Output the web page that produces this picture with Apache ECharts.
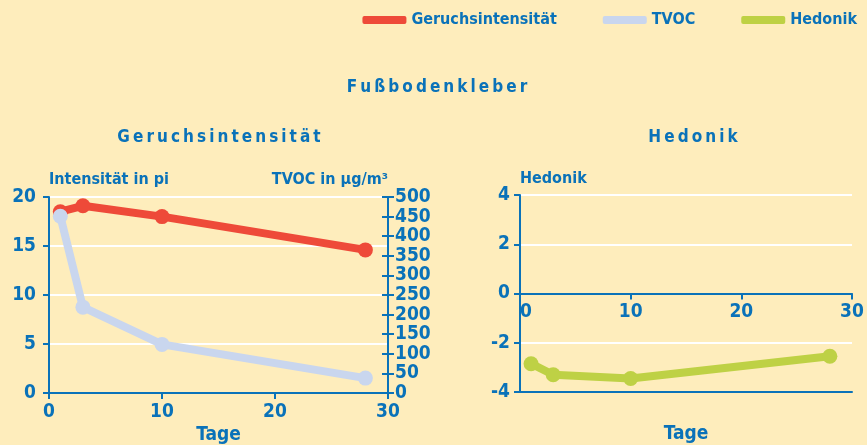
<!DOCTYPE html>
<html>
<head>
<meta charset="utf-8">
<script src="https://cdn.jsdelivr.net/npm/echarts@6/dist/echarts.min.js"></script>
<style>
  html, body { margin: 0; padding: 0; background: #FEEDBC; }
  #main { width: 867px; height: 445px; }
</style>
</head>
<body>
<div id="main"></div>
<script>
// Messwerte (Tage nach Verlegung)
var days = [1, 3, 10, 28];
var geruch = [18.5, 19.1, 18.0, 14.6];   // Intensität in pi
var tvoc = [451, 219, 124, 38];           // µg/m³
var hedonik = [-2.85, -3.3, -3.45, -2.55];

var blue = '#0A72B9';
var font = "'Liberation Sans Narrow', 'DejaVu Sans Condensed', sans-serif";

function pairs(xs, ys) {
    return xs.map(function (x, i) { return [x, ys[i]]; });
}
// gesperrte Überschriften (schmale Leerzeichen zwischen den Buchstaben)
function spaced(s) {
    return s.split('').join('\u2009');
}

var label = { color: blue, fontFamily: font, fontWeight: 'bold', fontSize: 19 };
var nameFont = Object.assign({}, label, { fontSize: 16 });
var axisLine = { show: true, lineStyle: { color: blue, width: 2 } };
var tick = { show: true, length: 6, lineStyle: { color: blue, width: 2 } };
var grid = { show: true, lineStyle: { color: '#ffffff', width: 2 } };
var titleFont = { color: blue, fontSize: 17, fontWeight: 'bold', fontFamily: font };

var myChart = echarts.init(document.getElementById('main'));
myChart.setOption({
    backgroundColor: '#FEEDBC',
    textStyle: { fontFamily: font },
    title: [
        { text: spaced('Fußbodenkleber'), left: 432, top: 74, textAlign: 'center', textStyle: titleFont },
        { text: spaced('Geruchsintensität'), left: 214, top: 124, textAlign: 'center', textStyle: titleFont },
        { text: spaced('Hedonik'), left: 688, top: 124, textAlign: 'center', textStyle: titleFont }
    ],
    legend: {
        right: 5, top: 7,
        icon: 'roundRect',
        itemWidth: 44, itemHeight: 8, itemGap: 46,
        textStyle: { color: blue, fontFamily: font, fontWeight: 'bold', fontSize: 16 },
        data: ['Geruchsintensität', 'TVOC', 'Hedonik']
    },
    grid: [
        { left: 49, width: 339, top: 197, height: 196, outerBoundsMode: 'none' },
        { left: 520, width: 332, top: 195, height: 197, outerBoundsMode: 'none' },
        // obere Hälfte rechts: trägt die x-Achse auf Höhe der Null
        { left: 520, width: 332, top: 195, height: 98.5, outerBoundsMode: 'none' }
    ],
    xAxis: [
        { gridIndex: 0, type: 'value', min: 0, max: 30, interval: 10,
          name: 'Tage', nameLocation: 'middle', nameGap: 33, nameTextStyle: label,
          axisLine: axisLine, axisTick: tick, splitLine: { show: false },
          axisLabel: Object.assign({ margin: 10 }, label) },
        { gridIndex: 1, type: 'value', min: 0, max: 30, interval: 10, position: 'bottom',
          name: 'Tage', nameLocation: 'middle', nameGap: 33, nameTextStyle: label,
          axisLine: Object.assign({ onZero: false }, axisLine),
          axisTick: { show: false }, axisLabel: { show: false }, splitLine: { show: false } },
        { gridIndex: 2, type: 'value', min: 0, max: 30, interval: 10,
          axisLine: Object.assign({ onZero: false }, axisLine), axisTick: tick, splitLine: { show: false },
          axisLabel: Object.assign({ margin: 9, alignMinLabel: 'left' }, label) }
    ],
    yAxis: [
        { gridIndex: 0, type: 'value', min: 0, max: 20, interval: 5,
          name: 'Intensität in pi', nameGap: 9,
          nameTextStyle: Object.assign({}, nameFont, { align: 'left' }),
          axisLine: axisLine, axisTick: tick, splitLine: grid,
          axisLabel: Object.assign({ margin: 13 }, label) },
        { gridIndex: 0, type: 'value', min: 0, max: 500, interval: 50, position: 'right',
          name: 'TVOC in µg/m³', nameGap: 9,
          nameTextStyle: Object.assign({}, nameFont, { align: 'right' }),
          axisLine: axisLine, axisTick: tick, splitLine: { show: false },
          axisLabel: Object.assign({ margin: 7, interval: 0, showMinLabel: true, showMaxLabel: true, hideOverlap: false }, label) },
        { gridIndex: 0, type: 'value', min: 0, max: 500, interval: 50, position: 'right',
          axisLine: { show: false }, axisTick: Object.assign({ inside: true }, tick),
          axisLabel: { show: false }, splitLine: { show: false } },
        { gridIndex: 1, type: 'value', min: -4, max: 4, interval: 2,
          name: 'Hedonik', nameGap: 8,
          nameTextStyle: Object.assign({}, nameFont, { align: 'left' }),
          axisLine: Object.assign({ onZero: false }, axisLine), axisTick: tick,
          // unterste Linie (-4) blau als Rahmen, übrige weiß
          splitLine: { show: true, lineStyle: { width: 2, color: [blue, '#ffffff', '#ffffff', '#ffffff', '#ffffff'] } },
          axisLabel: Object.assign({ margin: 10 }, label) },
        { gridIndex: 2, type: 'value', min: 0, max: 4, show: false }
    ],
    series: [
        { name: 'Geruchsintensität', type: 'line', xAxisIndex: 0, yAxisIndex: 0,
          data: pairs(days, geruch), color: '#EE4A39',
          lineStyle: { width: 8 }, symbol: 'circle', symbolSize: 15 },
        { name: 'TVOC', type: 'line', xAxisIndex: 0, yAxisIndex: 1,
          data: pairs(days, tvoc), color: '#C9D6EE',
          lineStyle: { width: 8 }, symbol: 'circle', symbolSize: 15 },
        { name: 'Hedonik', type: 'line', xAxisIndex: 1, yAxisIndex: 3,
          data: pairs(days, hedonik), color: '#BED145',
          lineStyle: { width: 8 }, symbol: 'circle', symbolSize: 15 }
    ]
});
</script>
</body>
</html>
